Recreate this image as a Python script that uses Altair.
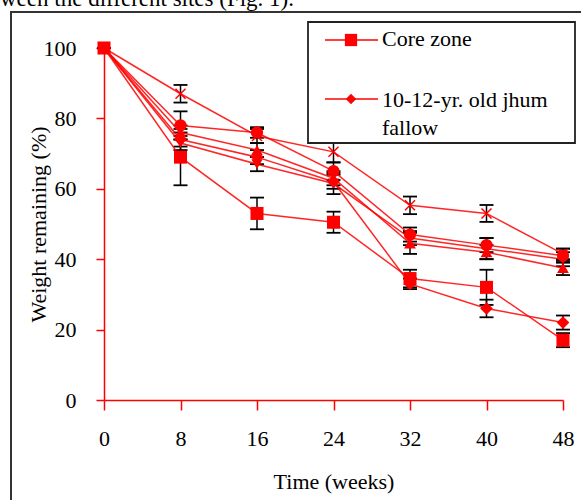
import altair as alt
import pandas as pd

# ---- data ----
weeks = [0, 8, 16, 24, 32, 40, 48]

core_zone = [100, 69, 53, 50.5, 34.5, 32, 17]
core_zone_err = [0, 8, 4.5, 3, 2.5, 5, 2]

jhum_10_12 = [100, 74, 69, 62, 33, 26, 22]
jhum_10_12_err = [0, 2, 2, 2, 1.5, 2.5, 2]

site_x = [100, 87, 75, 70.5, 55.3, 53, 41.5]
site_x_err = [0, 2.5, 2, 3, 2.5, 2.4, 1.5]

site_circle = [100, 78, 76, 65, 47, 44, 41]
site_circle_err = [0, 4, 1.5, 2.5, 2, 2, 2]

site_triangle = [100, 76, 71, 63, 44.5, 42, 37.5]
site_triangle_err = [0, 2, 2, 2, 3, 2, 2]

site_other = [100, 73, 67, 61.5, 46, 43, 40]
site_other_err = [0, 2, 2, 3, 2, 3, 2]

series = {
    "Core zone": (core_zone, core_zone_err),
    "10-12-yr. old jhum fallow": (jhum_10_12, jhum_10_12_err),
    "site_x": (site_x, site_x_err),
    "site_circle": (site_circle, site_circle_err),
    "site_triangle": (site_triangle, site_triangle_err),
    "site_other": (site_other, site_other_err),
}

rows = []
for name, (vals, errs) in series.items():
    for w, v, e in zip(weeks, vals, errs):
        rows.append({"series": name, "week": w, "value": v, "lo": v - e, "hi": v + e})
df = pd.DataFrame(rows)

caps = pd.concat([
    df[["series", "week"]].assign(cap=df["lo"]),
    df[["series", "week"]].assign(cap=df["hi"]),
])

FONT = "Liberation Serif"
RED = "#ff0000"

x_enc = alt.X("week:Q",
              scale=alt.Scale(domain=[0, 48], nice=False, zero=False),
              axis=alt.Axis(values=weeks, title="Time (weeks)", grid=False,
                            domainColor=RED, tickColor=RED, domainWidth=1.5, tickWidth=1.5,
                            tickSize=10, labelFont=FONT, labelFontSize=22, labelColor="black",
                            labelPadding=18, titleFont=FONT, titleFontSize=22,
                            titleFontWeight="normal", titleColor="black", titlePadding=22,
                            labelFlush=False))
y_axis = alt.Axis(values=[0, 20, 40, 60, 80, 100], title="Weight remaining  (%)", grid=False,
                  domainColor=RED, tickColor=RED, domainWidth=1.5, tickWidth=1.5,
                  tickSize=8, labelFont=FONT, labelFontSize=22, labelColor="black",
                  labelPadding=20, titleFont=FONT, titleFontSize=22,
                  titleFontWeight="normal", titleColor="black",
                  titleX=-66, titleY=176, titleAngle=-90, titleAlign="center",
                  titleBaseline="middle", labelFlush=False)
y_enc = alt.Y("value:Q", scale=alt.Scale(domain=[0, 100], nice=False), axis=y_axis)

base = alt.Chart(df)

err_rule = base.mark_rule(color="black", strokeWidth=1.5).encode(
    x=x_enc, y=alt.Y("lo:Q", scale=alt.Scale(domain=[0, 100], nice=False), axis=y_axis), y2="hi:Q")
err_caps = alt.Chart(caps).mark_rule(color="black", strokeWidth=1.8, xOffset=-7, x2Offset=7).encode(
    x="week:Q", x2="week:Q", y="cap:Q")

lines = base.mark_line(color=RED, strokeWidth=1.5, opacity=0.85).encode(
    x=x_enc, y=y_enc, detail="series:N")

filled_names = ["Core zone", "10-12-yr. old jhum fallow", "site_circle", "site_triangle", "site_other"]
points = base.transform_filter(
    alt.FieldOneOfPredicate(field="series", oneOf=filled_names)
).mark_point(filled=True, color=RED, opacity=1).encode(
    x="week:Q", y="value:Q",
    shape=alt.Shape("series:N", legend=None,
                    scale=alt.Scale(domain=filled_names,
                                    range=["square", "diamond", "circle", "triangle-up", "triangle-down"])),
    size=alt.Size("series:N", legend=None,
                  scale=alt.Scale(domain=filled_names, range=[170, 130, 120, 100, 90])),
)
xpoints = base.transform_filter(alt.datum.series == "site_x").mark_point(
    shape="M-1,-1L1,1M-1,1L1,-1", filled=False, color=RED, strokeWidth=1.5, size=100, opacity=1
).encode(x="week:Q", y="value:Q")

# ---- frame, caption fragment and legend ----
one = alt.Chart(pd.DataFrame({"a": [0]}))
frame = one.mark_rect(fillOpacity=0, stroke="#333333", strokeWidth=2).encode(
    x=alt.value(-93), x2=alt.value(500), y=alt.value(-36), y2=alt.value(480))
caption = one.mark_text(text="ween the different sites (Fig. 1).", font=FONT, fontSize=23,
                        align="left", baseline="alphabetic", color="black").encode(
    x=alt.value(-104), y=alt.value(-42))

legend_box = one.mark_rect(fill="white", stroke="#222222", strokeWidth=1.8).encode(
    x=alt.value(204), x2=alt.value(471), y=alt.value(-26), y2=alt.value(95))
leg_line1 = one.mark_rule(color=RED, strokeWidth=1.5).encode(
    x=alt.value(221), x2=alt.value(274), y=alt.value(-8))
leg_line2 = one.mark_rule(color=RED, strokeWidth=1.5).encode(
    x=alt.value(221), x2=alt.value(274), y=alt.value(51))
leg_sq = one.mark_point(shape="square", filled=True, color=RED, size=150, opacity=1).encode(
    x=alt.value(247), y=alt.value(-8))
leg_dm = one.mark_point(shape="diamond", filled=True, color=RED, size=110, opacity=1).encode(
    x=alt.value(247), y=alt.value(51))
leg_t1 = one.mark_text(text="Core zone", font=FONT, fontSize=22, align="left",
                       baseline="middle", color="black").encode(x=alt.value(278), y=alt.value(-9))
leg_t2 = one.mark_text(text=["10-12-yr. old jhum", "fallow"], font=FONT, fontSize=22, align="left",
                       baseline="middle", color="black", lineHeight=28).encode(
    x=alt.value(278), y=alt.value(52))

chart = alt.layer(
    err_rule, err_caps, lines, points, xpoints,
    frame, caption, legend_box, leg_line1, leg_line2, leg_sq, leg_dm, leg_t1, leg_t2
).properties(
    width=459, height=352,
    autosize=alt.AutoSizeParams(type="none"),
    padding={"left": 104, "top": 48, "right": 18, "bottom": 100},
    background="white",
).configure_view(stroke=None)

chart.save("out.html", embed_options={"renderer": "svg", "actions": False})
